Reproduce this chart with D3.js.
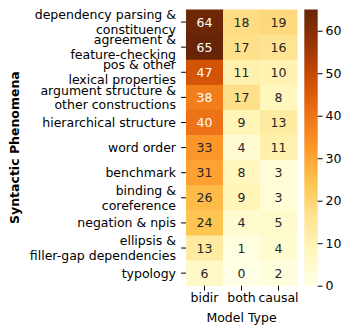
<!DOCTYPE html>
<html>
<head>
<meta charset="utf-8">
<script src="https://cdn.jsdelivr.net/npm/d3@7"></script>
<style>
  html, body { margin: 0; padding: 0; background: #fff; }
  svg { display: block; font-family: "DejaVu Sans", sans-serif; }
  svg text { font-family: "DejaVu Sans", sans-serif; }
</style>
</head>
<body>
<svg id="chart" width="352" height="334"></svg>
<script>
const phenomena = [
  "dependency parsing &\nconstituency",
  "agreement &\nfeature-checking",
  "pos & other\nlexical properties",
  "argument structure &\nother constructions",
  "hierarchical structure",
  "word order",
  "benchmark",
  "binding &\ncoreference",
  "negation & npis",
  "ellipsis &\nfiller-gap dependencies",
  "typology"
];
const modelTypes = ["bidir", "both", "causal"];
const bidirValues  = [64, 65, 47, 38, 40, 33, 31, 26, 24, 13, 6];
const bothValues   = [18, 17, 11, 17, 9, 4, 8, 9, 4, 1, 0];
const causalValues = [19, 16, 10, 8, 13, 11, 3, 3, 5, 4, 2];
const colorbarTicks = [0, 10, 20, 30, 40, 50, 60];
const xAxisTitle = "Model Type";
const yAxisTitle = "Syntactic Phenomena";

const FONT = "DejaVu Sans, sans-serif";
const seriesByType = { bidir: bidirValues, both: bothValues, causal: causalValues };
const cells = [];
phenomena.forEach((p, i) => {
  modelTypes.forEach(m => cells.push({ row: p, col: m, value: seriesByType[m][i] }));
});

const svg = d3.select("#chart");
const plotLeft = 186, plotRight = 297, plotTop = 9.5, plotBottom = 285.7;

const x = d3.scaleBand().domain(modelTypes).range([plotLeft, plotRight]).padding(0);
const y = d3.scaleBand().domain(phenomena).range([plotTop, plotBottom]).padding(0);

const ylorbr = ["#ffffe5","#fff7bc","#fee391","#fec44f","#fe9929","#ec7014","#cc4c02","#993404","#662506"];
const cmap = d3.scaleLinear()
  .domain(d3.range(ylorbr.length).map(i => i / (ylorbr.length - 1)))
  .range(ylorbr)
  .interpolate(d3.interpolateRgb)
  .clamp(true);
const vmax = d3.max(cells, d => d.value);
const norm = d3.scaleLinear().domain([0, vmax]).range([0, 1]).clamp(true);
const color = v => cmap(norm(v));

function luminance(c) {
  const rgb = d3.rgb(c);
  const lin = [rgb.r, rgb.g, rgb.b].map(v => {
    v = v / 255;
    return v <= 0.03928 ? v / 12.92 : Math.pow((v + 0.055) / 1.055, 2.4);
  });
  return 0.2126 * lin[0] + 0.7152 * lin[1] + 0.0722 * lin[2];
}

// cells
svg.append("g").selectAll("rect").data(cells).join("rect")
  .attr("x", d => x(d.col))
  .attr("y", d => y(d.row))
  .attr("width", x.bandwidth() + 0.5)
  .attr("height", y.bandwidth() + 0.5)
  .attr("fill", d => color(d.value));

// annotations
svg.append("g").attr("font-family", FONT).selectAll("text").data(cells).join("text")
  .attr("x", d => x(d.col) + x.bandwidth() / 2)
  .attr("y", d => y(d.row) + y.bandwidth() / 2)
  .attr("text-anchor", "middle")
  .attr("dy", "0.36em")
  .attr("font-size", 12.5)
  .attr("fill", d => luminance(color(d.value)) > 0.408 ? "#262626" : "#ffffff")
  .text(d => d.value);

// y axis
const yAxis = d3.axisLeft(y).tickSize(4.9).tickPadding(4.5).tickFormat("");
const yg = svg.append("g").attr("transform", `translate(${plotLeft},0)`).call(yAxis)
  .attr("font-family", FONT).attr("font-size", 12.5);
yg.select(".domain").remove();
yg.selectAll(".tick line").attr("stroke", "#000").attr("stroke-width", 1);
yg.selectAll(".tick text").remove();
yg.selectAll(".tick").each(function(d) {
  const lines = d.split("\n");
  const lh = 14.6;
  const t = d3.select(this).append("text")
    .attr("x", -10)
    .attr("text-anchor", "end")
    .attr("font-size", 12.5)
    .attr("font-family", FONT)
    .attr("fill", "#000");
  lines.forEach((ln, i) => {
    t.append("tspan")
      .attr("x", -10)
      .attr("y", (i - (lines.length - 1) / 2) * lh)
      .attr("dy", "0.36em")
      .text(ln);
  });
});

// x axis
const xAxis = d3.axisBottom(x).tickSize(4.9).tickPadding(3);
const xg = svg.append("g").attr("transform", `translate(0,${plotBottom})`).call(xAxis)
  .attr("font-family", FONT).attr("font-size", 12.5);
xg.select(".domain").remove();
xg.selectAll(".tick line").attr("stroke", "#000");
xg.selectAll(".tick text").attr("fill", "#000");

// axis titles
svg.append("text")
  .attr("x", (plotLeft + plotRight) / 2)
  .attr("y", 322)
  .attr("text-anchor", "middle")
  .attr("font-size", 12.5)
  .attr("font-family", FONT)
  .attr("fill", "#000")
  .text(xAxisTitle);
svg.append("text")
  .attr("transform", `translate(18.5,${(plotTop + plotBottom) / 2}) rotate(-90)`)
  .attr("text-anchor", "middle")
  .attr("font-size", 12.5)
  .attr("font-family", FONT)
  .attr("font-weight", "bold")
  .attr("fill", "#000")
  .text(yAxisTitle);

// colorbar
const cbLeft = 304.3, cbRight = 317.7;
const defs = svg.append("defs");
const grad = defs.append("linearGradient").attr("id", "cbgrad")
  .attr("x1", 0).attr("y1", 1).attr("x2", 0).attr("y2", 0);
ylorbr.forEach((c, i) => {
  grad.append("stop").attr("offset", i / (ylorbr.length - 1)).attr("stop-color", c);
});
svg.append("rect")
  .attr("x", cbLeft).attr("y", plotTop)
  .attr("width", cbRight - cbLeft).attr("height", plotBottom - plotTop)
  .attr("fill", "url(#cbgrad)");
const cbScale = d3.scaleLinear().domain([0, vmax]).range([plotBottom, plotTop]);
const cbAxis = d3.axisRight(cbScale).tickValues(colorbarTicks).tickSize(4.9).tickPadding(3);
const cg = svg.append("g").attr("transform", `translate(${cbRight},0)`).call(cbAxis)
  .attr("font-family", FONT).attr("font-size", 12.5);
cg.select(".domain").remove();
cg.selectAll(".tick line").attr("stroke", "#000");
cg.selectAll(".tick text").attr("fill", "#000");
</script>
</body>
</html>
